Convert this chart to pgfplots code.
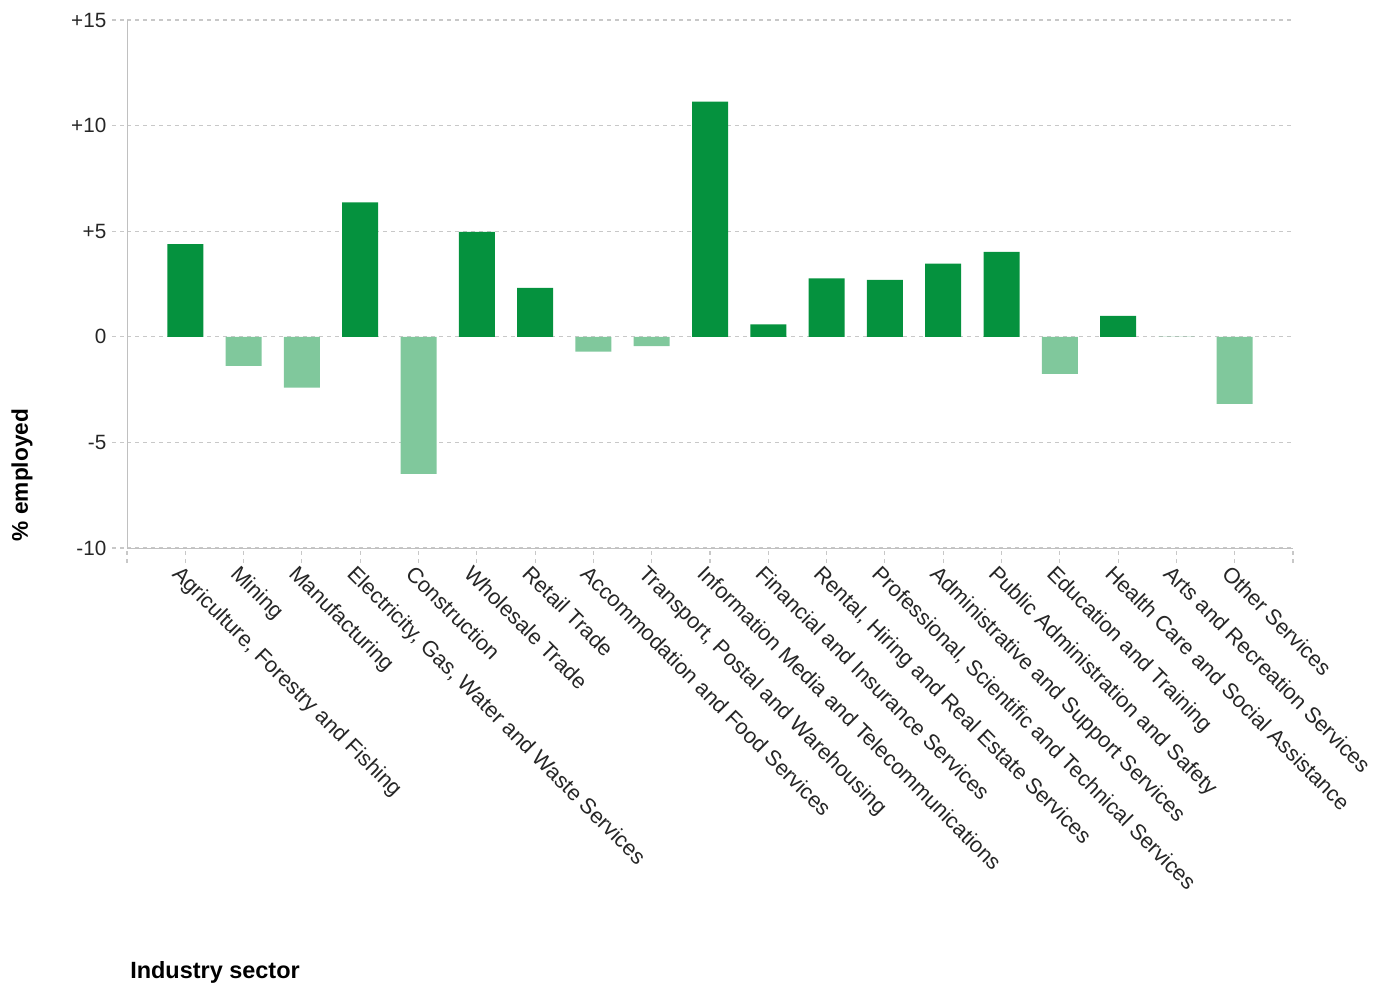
\documentclass[border=0pt]{standalone}
\usepackage{pgfplots}
\pgfplotsset{compat=1.18}
\usepackage{fontspec}
\setmainfont{Liberation Sans}
\definecolor{dg}{HTML}{05923E}
\definecolor{lg}{HTML}{80C89C}
\definecolor{gridc}{HTML}{C8C8C8}
\definecolor{axc}{HTML}{C0C0C0}
\begin{document}
\begin{tikzpicture}
\useasboundingbox (-95.25pt,-330pt) rectangle (948pt,411pt);
\begin{axis}[
  at={(0pt,0pt)}, anchor=south west,
  scale only axis, width=874.5pt, height=396pt,
  xmin=-1, xmax=19, ymin=-10, ymax=15,
  ybar, bar width=27pt, bar shift=0pt,
  axis x line*=bottom, axis y line*=left,
  axis line style={axc,-},
  ytick={-10,-5,0,5,10,15},
  yticklabels={-10,-5,0,+5,+10,+15},
  xtick={-1,0,...,19},
  xticklabels={{},{Agriculture, Forestry and Fishing},Mining,Manufacturing,{Electricity, Gas, Water and Waste Services},Construction,Wholesale Trade,Retail Trade,Accommodation and Food Services,{Transport, Postal and Warehousing},Information Media and Telecommunications,Financial and Insurance Services,{Rental, Hiring and Real Estate Services},{Professional, Scientific and Technical Services},Administrative and Support Services,Public Administration and Safety,Education and Training,Health Care and Social Assistance,Arts and Recreation Services,Other Services,{}},
  ymajorgrids, grid style={dashed, gridc, line width=0.8pt},
  tick align=outside, major tick length=11pt,
  tick style={gridc, dashed, line width=0.8pt},
  yticklabel style={font=\fontsize{15.5}{18}\selectfont, text=black!85, xshift=-1pt},
  xticklabel style={font=\fontsize{16.3}{18}\selectfont, text=black!85, rotate=-45, anchor=north west, inner sep=1pt, xshift=-2pt, yshift=-1pt},
  /pgf/number format/assume math mode=true,
  clip=false,
]
\addplot[fill=dg, draw=none] coordinates {
 (0,4.39) (3,6.37) (5,4.97) (6,2.32) (9,11.13) (10,0.59) (11,2.77) (12,2.69) (13,3.46) (14,4.02) (16,0.99) (17,0)
};
\addplot[fill=lg, draw=none] coordinates {
 (1,-1.38) (2,-2.41) (4,-6.49) (7,-0.70) (8,-0.44) (15,-1.75) (18,-3.17)
};
\end{axis}
\node[rotate=90, font=\bfseries\fontsize{17}{20}\selectfont] at (-78.75pt,54.75pt) {\% employed};
\node[anchor=west, inner sep=0pt, font=\bfseries\fontsize{17.6}{20}\selectfont] at (2.25pt,-318pt) {Industry sector};
\end{tikzpicture}
\end{document}
